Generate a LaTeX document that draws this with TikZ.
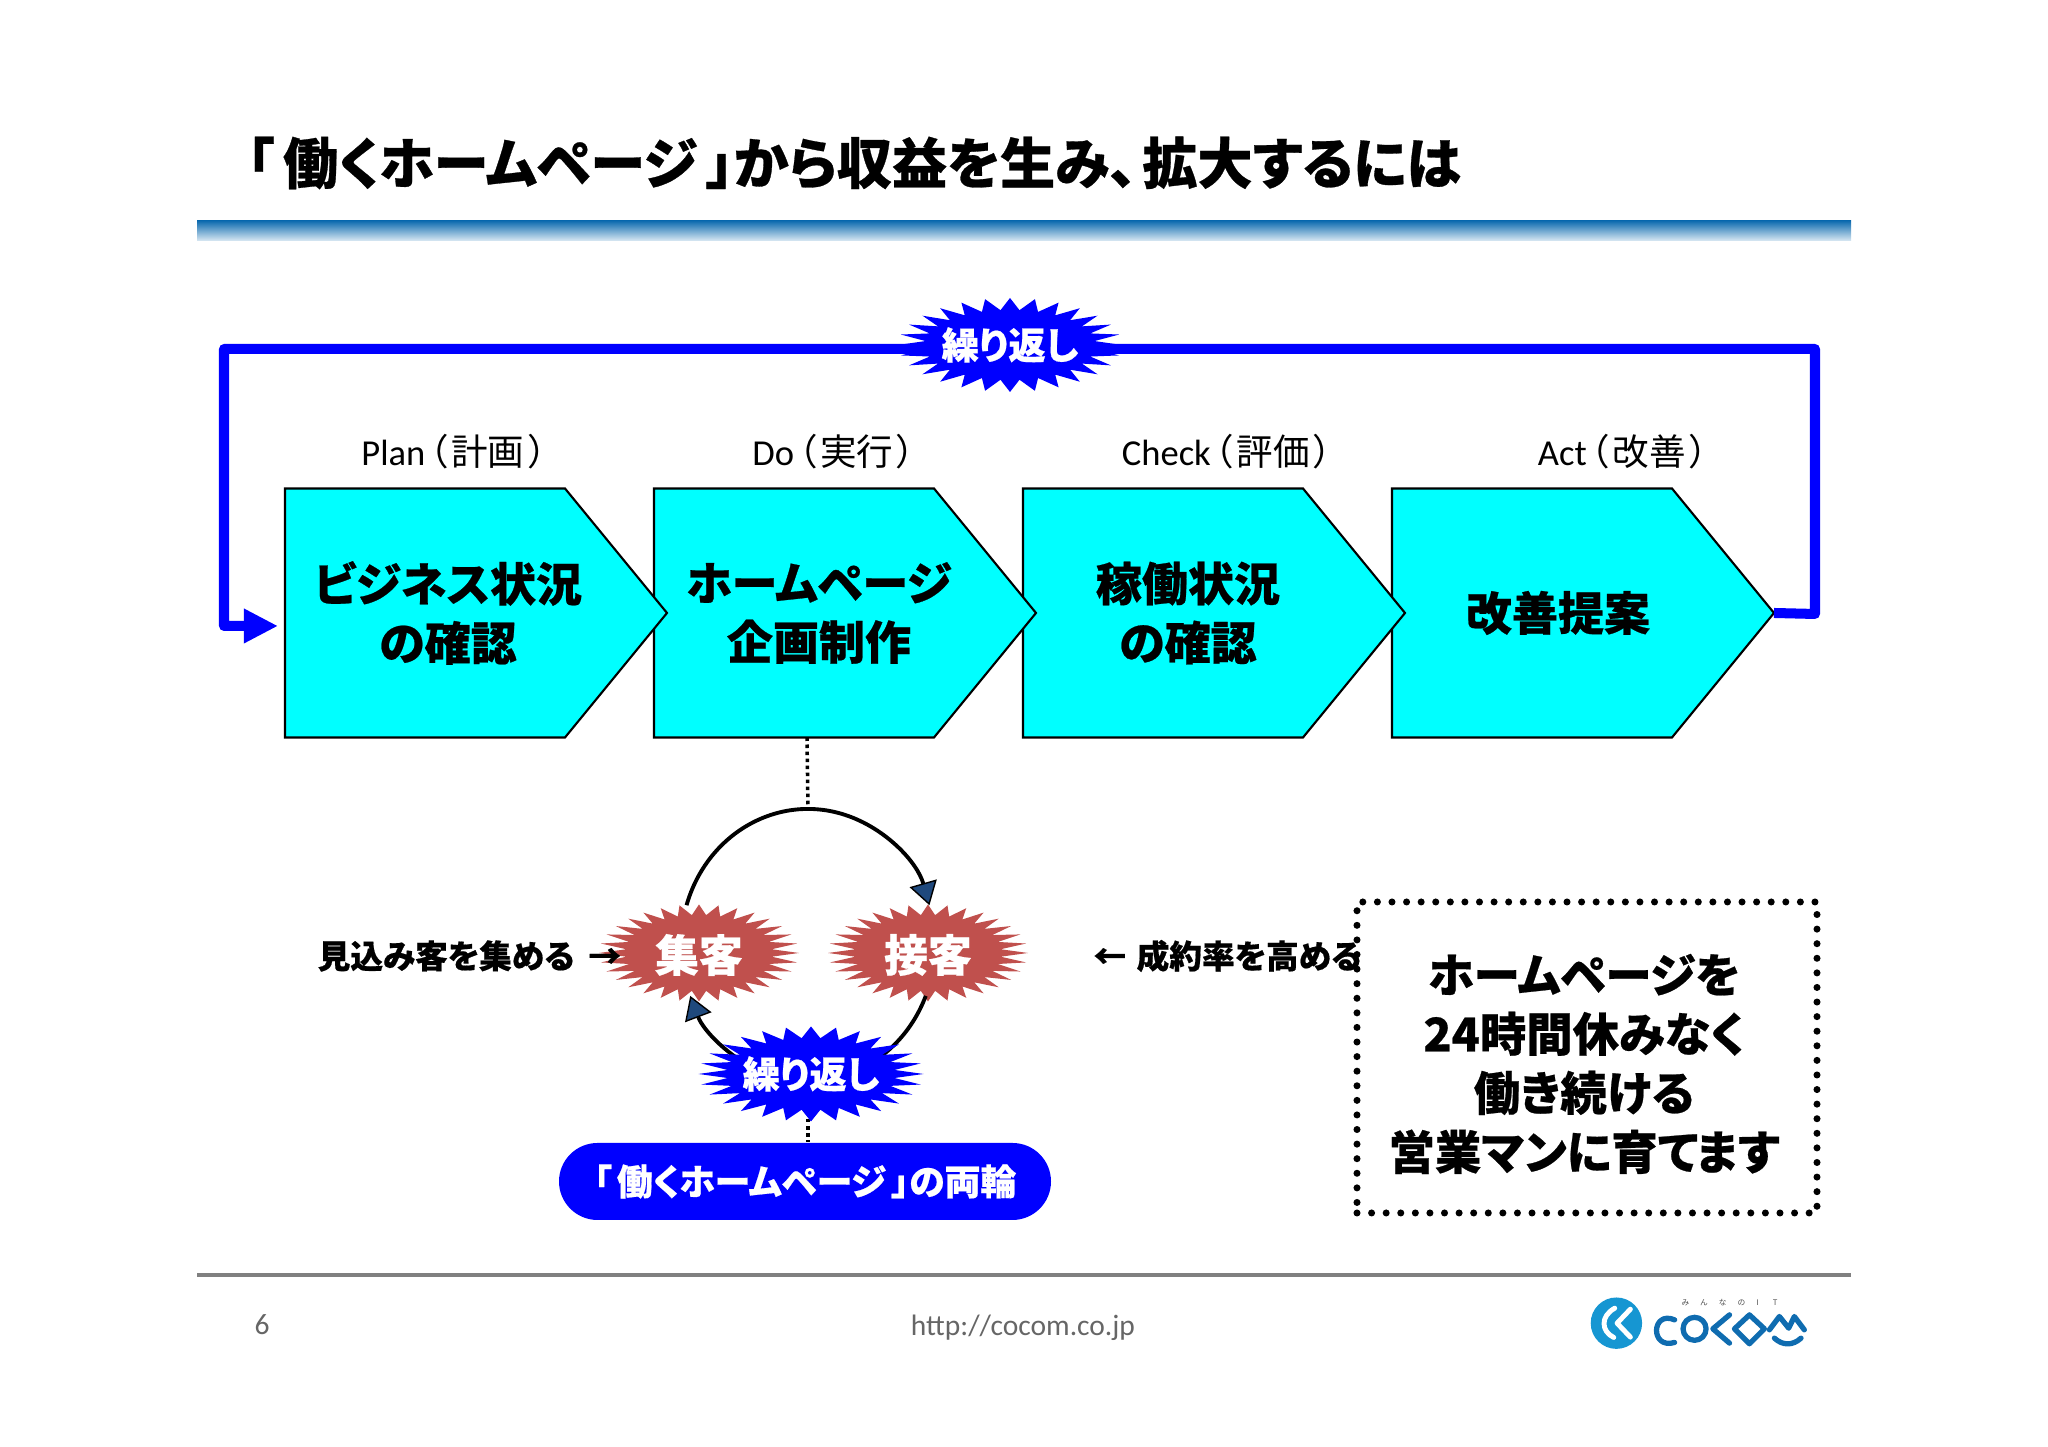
\documentclass[tikz,border=0pt]{standalone}
\usepackage{fontspec}
\setmainfont{Carlito}
\newfontfamily\jpthin[RawFeature=+palt]{Noto Sans CJK JP}
\newfontfamily\jpfat[RawFeature=+palt,FakeBold=.5,UprightFont=* Black]{Noto Sans CJK JP}
\usetikzlibrary{arrows.meta,calc}
\definecolor{cyanbox}{HTML}{00FFFF}
\definecolor{burstred}{HTML}{C0504D}
\definecolor{loopblue}{HTML}{0000FF}
\definecolor{tipnavy}{HTML}{1F497D}
\definecolor{logoblue}{HTML}{0F6CB0}
\definecolor{logosky}{HTML}{1696D2}
% colour, centre, outer radii, inner radii, number of points
\newcommand\spikes[8]{\fill[#1] plot[variable=\t,domain=0:360,samples=\the\numexpr2*#8+1\relax]
  ({#2+(#6+(#4-#6)*(1-mod(round(\t*#8/180),2)))*cos(\t)},{#3+(#7+(#5-#7)*(1-mod(round(\t*#8/180),2)))*sin(\t)});}
\newcommand\paren[1]{{\jpthin\hskip1.1pt（\hskip1.1pt#1\hskip1.1pt）}}
\tikzset{
  stepbox/.style={draw=black,line width=.6pt,fill=cyanbox},
  steptext/.style={font=\jpfat\fontsize{13.1}{16.8}\selectfont,align=center,inner sep=0pt},
  phase/.style={font=\fontsize{10.4}{12}\selectfont,inner sep=0pt},
  burst/.style={inner sep=0pt,text=white,font=\jpfat\fontsize{10.6}{12}\selectfont},
  burstbig/.style={inner sep=0pt,text=white,font=\jpfat\fontsize{12.5}{14}\selectfont},
  note/.style={font=\jpfat\fontsize{9.3}{12}\selectfont,inner sep=0pt},
  wheel/.style={line width=1.1pt},
  wheeltip/.style={-{Triangle[length=6.5pt,width=8pt,fill=tipnavy,line width=.4pt]}},
  linkdots/.style={line width=1pt,dash pattern=on 1pt off 1pt},
  boxdots/.style={line width=2pt,line cap=round,dash pattern=on 0pt off 4.15pt},
  logoline/.style={draw=logoblue,line width=1.5pt,line cap=round,line join=round}
}
\begin{document}
\begin{tikzpicture}
  \useasboundingbox (0,0) rectangle (20.48,14.47);
  % head and foot
  \node[font=\jpfat\fontsize{15.7}{16}\selectfont,anchor=west,inner sep=0pt] (title) at (2.46,12.84) {「\hskip2.5pt働くホームページ\hskip2.5pt」から収益を生み、\hskip1.5pt拡大するには};
  \shade[top color=logoblue,bottom color=logoblue!15] (1.97,12.26) rectangle (18.51,12.06);
  \draw[black!50,line width=1pt] (1.97,1.72) -- (18.51,1.72);
  \node[text=black!60,font=\fontsize{8.4}{10}\selectfont,inner sep=0pt] (page) at (2.62,1.22) {6};
  \node[text=black!60,font=\fontsize{8.4}{10}\selectfont,inner sep=0pt] (url) at (10.23,1.19) {http://cocom.co.jp};
  % the four steps
  \foreach \x/\i in {13.92/4,10.23/3,6.54/2,2.85/1} {
    \draw[stepbox] (\x,9.585) -- ++(2.80,0) -- ++(1.02,-1.245) -- ++(-1.02,-1.245) -- ++(-2.80,0) -- cycle;
    \coordinate (tip\i) at (\x+3.82,8.34);
    \coordinate (foot\i) at (\x+1.53,7.095);
  }
  \node[steptext] (s1) at (4.48,8.34) {ビジネス状況\\の確認};
  \node[steptext] (s2) at (8.19,8.34) {ホームページ\\企画制作};
  \node[steptext] (s3) at (11.88,8.34) {稼働状況\\の確認};
  \node[steptext] (s4) at (15.58,8.34) {改善提案};
  \node[phase] (p1) at (4.54,9.95) {Plan\paren{計画}};
  \node[phase] (p2) at (8.34,9.95) {Do\paren{実行}};
  \node[phase] (p3) at (12.27,9.95) {Check\paren{評価}};
  \node[phase] (p4) at (16.23,9.95) {Act\paren{改善}};
  % big loop
  \coordinate (back1) at (18.15,8.33);
  \coordinate (back2) at (18.15,10.98);
  \coordinate (back3) at (2.24,10.98);
  \coordinate (back4) at (2.24,8.21);
  \coordinate (into1) at (2.78,8.21);
  \draw[loopblue,line width=2.85pt,line join=round,-{Triangle[length=9.7pt,width=9.2pt]}]
    (tip4) -- (back1) -- (back2) -- (back3) -- (back4) -- (into1);
  \spikes{loopblue}{10.10}{11.02}{1.12}{.47}{.85}{.35}{28}
  \node[burst] (again1) at (10.10,11.02) {繰り返し};
  % two wheels
  \spikes{burstred}{6.99}{4.94}{1.00}{.485}{.73}{.38}{32}
  \spikes{burstred}{9.28}{4.94}{1.00}{.485}{.73}{.38}{32}
  \node[burstbig] (b1) at (6.99,4.92) {集客};
  \node[burstbig] (b2) at (9.28,4.92) {接客};
  \coordinate (wtop) at (8.08,6.38);
  \coordinate (wbot) at (8.08,3.28);
  \coordinate (w1) at ($(8.08,5.02)+(163:1.27 and 1.36)$);
  \coordinate (w2) at ($(8.08,5.02)+(-22:1.27 and 1.36)$);
  \draw[wheel,wheeltip] (w1) arc[start angle=163,end angle=17,x radius=1.27,y radius=1.36];
  \draw[wheel,wheeltip] (w2) arc[start angle=-22,end angle=-158,x radius=1.27,y radius=1.36];
  \draw[linkdots] (foot2) -- (wtop);
  \node[fill=loopblue,text=white,rounded corners=.385cm,minimum width=4.92cm,minimum height=.77cm,inner sep=0pt,font=\jpfat\fontsize{10.2}{12}\selectfont] (pill) at (8.05,2.655) {「\hskip1.5pt働くホームページ\hskip1.5pt」の両輪};
  \draw[linkdots] (wbot) -- (wbot |- pill.north);
  \spikes{loopblue}{8.11}{3.73}{1.125}{.475}{.84}{.36}{28}
  \node[burst] (again2) at (8.11,3.73) {繰り返し};
  \node[note,anchor=west] (n1) at (3.17,4.91) {見込み客を集める\hskip4pt→};
  \node[note,anchor=east] (n2) at (13.62,4.91) {←\hskip3pt 成約率を高める};
  % box on the right
  \node[draw,boxdots,minimum width=4.60cm,minimum height=3.11cm] (box) at (15.87,3.895) {};
  \node[font=\jpfat\fontsize{13.2}{16.8}\selectfont,align=center,inner sep=0pt] (boxtext) at (15.84,3.83) {ホームページを\\24時間休みなく\\働き続ける\\営業マンに育てます};
  % logo
  \begin{scope}[shift={(15,1.87)},x=.00333cm,y=-.00333cm]
    \fill[logosky] (350,190) circle[radius=.257cm];
    \draw[white,line width=1.4pt,line cap=round,line join=round] (345,145) .. controls (300,170) and (305,215) .. (342,233);
    \draw[white,line width=1.4pt,line cap=round,line join=round] (392,148) -- (352,190) -- (392,232);
    \draw[logoline] (525,180) .. controls (455,150) and (450,270) .. (525,248);
    \draw[logoline] (585,207) circle[radius=.115cm];
    \draw[logoline] (690,165) -- (640,207) -- (690,250);
    \draw[logoline] (750,165) -- (795,207) -- (750,252) -- (705,207) -- cycle;
    \draw[logoline] (810,210) -- (840,170) -- (868,205) -- (885,170) -- (915,210);
    \draw[logoline] (825,235) .. controls (850,258) and (880,258) .. (905,235);
    \node[text=black!70,inner sep=0pt,font=\jpthin\fontsize{2.2}{3}\selectfont] (tag) at (690,128) {み\hskip3.2ptん\hskip3.2ptな\hskip3.2ptの\hskip3.2ptI\hskip4ptT};
  \end{scope}
\end{tikzpicture}
\end{document}
